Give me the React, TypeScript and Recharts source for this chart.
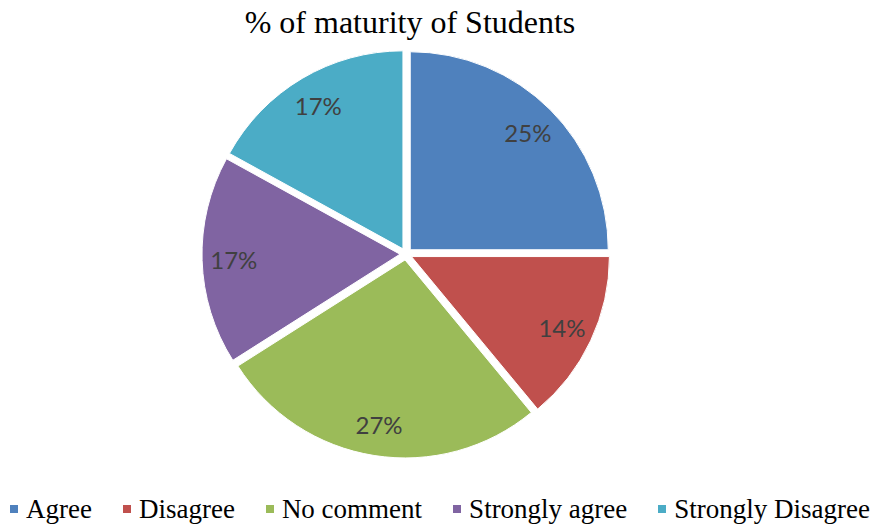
import React from 'react';
import { PieChart, Pie, Cell, Sector, Legend } from 'recharts';

const categories = ['Agree', 'Disagree', 'No comment', 'Strongly agree', 'Strongly Disagree'];
const percents = [25, 14, 27, 17, 17];
const colors = ['#4F81BD', '#C0504D', '#9BBB59', '#8064A2', '#4BACC6'];

const data = categories.map((name, i) => ({ name, value: percents[i] }));

const RAD = Math.PI / 180;
const EXPLODE = 6;

const ExplodedSector = (props: any) => {
  const { cx, cy, midAngle } = props;
  return (
    <Sector
      {...props}
      cx={cx + EXPLODE * Math.cos(-midAngle * RAD)}
      cy={cy + EXPLODE * Math.sin(-midAngle * RAD)}
      stroke="#fff"
      strokeWidth={1}
    />
  );
};

const renderLabel = (props: any) => {
  const { cx, cy, midAngle, outerRadius, value } = props;
  const r = outerRadius * 0.84 + EXPLODE;
  const x = cx + r * Math.cos(-midAngle * RAD);
  const y = cy + r * Math.sin(-midAngle * RAD);
  return (
    <text
      x={x}
      y={y}
      fill="#404040"
      textAnchor="middle"
      dominantBaseline="central"
      style={{ fontFamily: 'Lato, "Liberation Sans", sans-serif', fontSize: 24 }}
    >
      {`${value}%`}
    </text>
  );
};

const LegendContent = () => (
  <div
    style={{
      display: 'flex',
      justifyContent: 'center',
      alignItems: 'center',
      gap: 31,
      fontFamily: '"Liberation Serif", "Times New Roman", serif',
      fontSize: 27,
      color: '#000',
      lineHeight: '30px',
      whiteSpace: 'nowrap',
    }}
  >
    {categories.map((name, i) => (
      <span key={name} style={{ display: 'flex', alignItems: 'center' }}>
        <span
          style={{
            width: 8,
            height: 8,
            background: colors[i],
            display: 'inline-block',
            marginRight: 8,
          }}
        />
        {name}
      </span>
    ))}
  </div>
);

export default function App() {
  return (
    <div style={{ position: 'absolute', left: 0, top: 0, width: 880, height: 525, background: '#fff' }}>
      <div
        style={{
          position: 'absolute',
          left: 0,
          top: 6,
          width: 820,
          textAlign: 'center',
          fontFamily: '"Liberation Serif", "Times New Roman", serif',
          fontSize: 32,
          lineHeight: '32px',
          color: '#000',
        }}
      >
        % of maturity of Students
      </div>
      <PieChart width={880} height={525} margin={{ top: 0, right: 0, bottom: 0, left: 0 }}>
        <Pie
          data={data}
          dataKey="value"
          nameKey="name"
          cx={406}
          cy={254}
          outerRadius={198}
          startAngle={90}
          endAngle={-270}
          stroke="#fff"
          strokeWidth={1}
          shape={ExplodedSector}
          label={renderLabel}
          labelLine={false}
          isAnimationActive={false}
        >
          {data.map((d, i) => (
            <Cell key={d.name} fill={colors[i]} />
          ))}
        </Pie>
        <Legend
          content={<LegendContent />}
          wrapperStyle={{ left: 0, top: 494, bottom: 'auto', width: 880 }}
        />
      </PieChart>
    </div>
  );
}
